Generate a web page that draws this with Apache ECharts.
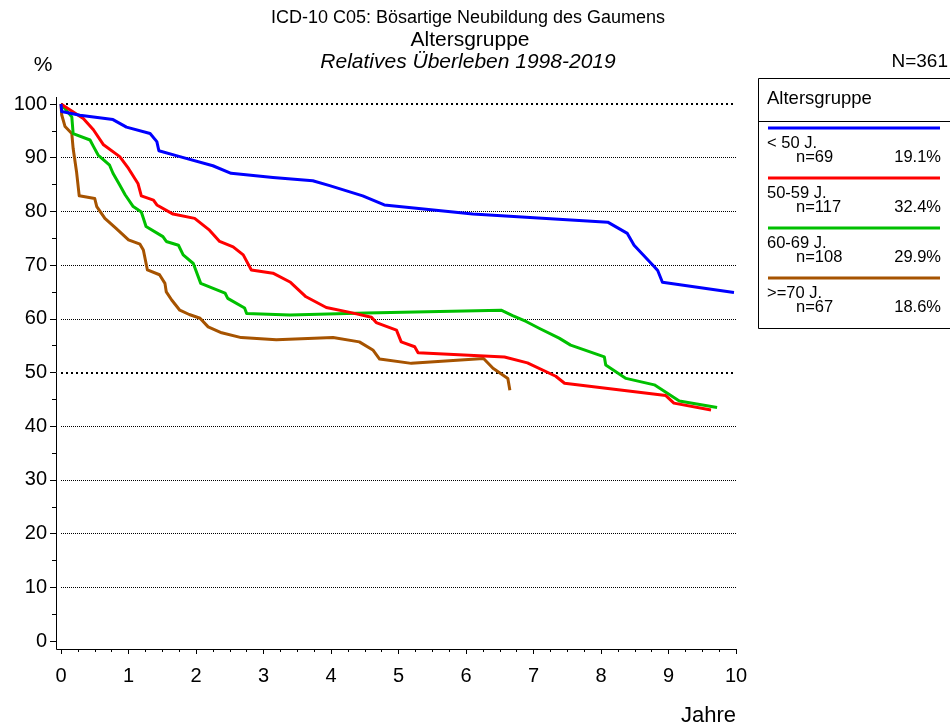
<!DOCTYPE html>
<html>
<head>
<meta charset="utf-8">
<script src="https://cdn.jsdelivr.net/npm/echarts@6/dist/echarts.min.js"></script>
<style>
  html, body { margin: 0; padding: 0; background: #fff; }
  #chart { width: 950px; height: 728px; }
</style>
</head>
<body>
<div id="chart"></div>
<script>
// Relatives Überleben nach Altersgruppe, [Jahre, %]
const groups = ['< 50 J.', '50-59 J.', '60-69 J.', '>=70 J.']
const counts = [69, 117, 108, 67]
const shares = ['19.1%', '32.4%', '29.9%', '18.6%']
const colors = ['#0000ff', '#ff0000', '#00c000', '#a65300']

const survUnder50 = [
  [0, 100], [0.01, 98.6], [0.28, 97.9], [0.77, 97.1], [0.97, 95.7], [1.32, 94.5],
  [1.42, 93], [1.45, 91.3], [1.76, 90.2], [2.25, 88.5], [2.52, 87.1], [3.14, 86.3],
  [3.73, 85.7], [3.98, 84.8], [4.47, 82.9], [4.79, 81.2], [6.1, 79.5], [8.1, 78],
  [8.39, 75.9], [8.49, 73.7], [8.79, 69.7], [8.84, 69], [8.91, 66.8], [9.97, 64.9]
]
const surv50to59 = [
  [0, 100], [0.33, 97.3], [0.48, 95.2], [0.63, 92.4], [0.87, 90.2], [1.0, 88],
  [1.14, 85.2], [1.19, 82.9], [1.37, 82.1], [1.42, 81.2], [1.66, 79.5], [1.98, 78.7],
  [2.2, 76.5], [2.35, 74.4], [2.55, 73.4], [2.7, 71.9], [2.82, 69.1], [3.14, 68.5],
  [3.4, 66.8], [3.63, 64.1], [3.93, 62.1], [4.28, 61.2], [4.6, 60.3], [4.67, 59.3],
  [4.97, 57.9], [5.04, 55.7], [5.24, 54.8], [5.29, 53.7], [6.57, 52.9], [6.91, 51.8],
  [7.33, 49.3], [7.46, 48], [8.96, 45.7], [9.08, 44.3], [9.63, 43]
]
const surv60to69 = [
  [0, 100], [0.16, 97.6], [0.18, 94.5], [0.43, 93.3], [0.48, 92.1], [0.55, 90.5],
  [0.72, 88.6], [0.77, 87.1], [0.87, 84.9], [0.95, 83.1], [1.07, 80.9], [1.19, 79.9],
  [1.26, 77.2], [1.51, 75.3], [1.56, 74.4], [1.74, 73.7], [1.81, 71.9], [1.96, 70.3],
  [2.07, 66.6], [2.43, 64.8], [2.47, 63.8], [2.72, 62], [2.75, 61], [3.39, 60.7],
  [4.52, 61.1], [6.52, 61.6], [6.69, 60.6], [6.89, 59.5], [7.09, 58.2], [7.38, 56.4],
  [7.55, 55.1], [8.05, 52.9], [8.07, 51.4], [8.37, 48.9], [8.79, 47.7], [9.16, 44.7],
  [9.72, 43.5]
]
const survOver70 = [
  [0, 100], [0.01, 98], [0.06, 95.8], [0.16, 94.5], [0.18, 91.7], [0.23, 87.4],
  [0.27, 82.9], [0.5, 82.4], [0.53, 80.9], [0.65, 78.7], [0.82, 76.8], [1.0, 74.7],
  [1.17, 73.9], [1.22, 72.8], [1.28, 69.1], [1.46, 68.2], [1.54, 66.6], [1.56, 65],
  [1.64, 63.5], [1.76, 61.6], [1.9, 60.8], [2.06, 60.1], [2.18, 58.5], [2.38, 57.4],
  [2.67, 56.5], [3.19, 56.1], [4.03, 56.5], [4.42, 55.7], [4.62, 54.2], [4.72, 52.5],
  [5.19, 51.7], [6.26, 52.6], [6.4, 50.8], [6.62, 48.9], [6.65, 46.7]
]
const curves = [survUnder50, surv50to59, surv60to69, survOver70]

const yTicks = [0, 10, 20, 30, 40, 50, 60, 70, 80, 90, 100]
const xTicks = [0, 1, 2, 3, 4, 5, 6, 7, 8, 9, 10]

const font = '"Liberation Sans", Arial, sans-serif'
const chart = echarts.init(document.getElementById('chart'))

// thin dotted grid lines; 0, 50 and 100 left out (50/100 drawn bolder below)
const gridColors = yTicks.map(v => (v === 0 || v === 50 || v === 100) ? 'rgba(0,0,0,0)' : '#000')

const legendItems = []
groups.forEach((g, i) => {
  const y0 = 128 + i * 50
  legendItems.push(
    { type: 'line', shape: { x1: 768, y1: y0, x2: 940, y2: y0 }, style: { stroke: colors[i], lineWidth: 3 } },
    { type: 'text', x: 767, y: y0 + 15, style: { text: g, font: '16.5px ' + font, fill: '#000', textVerticalAlign: 'middle' } },
    { type: 'text', x: 796, y: y0 + 29, style: { text: 'n=' + counts[i], font: '16.5px ' + font, fill: '#000', textVerticalAlign: 'middle' } },
    { type: 'text', x: 941, y: y0 + 29, style: { text: shares[i], font: '16.5px ' + font, fill: '#000', textAlign: 'right', textVerticalAlign: 'middle' } }
  )
})

chart.setOption({
  animation: false,
  backgroundColor: '#fff',
  textStyle: { fontFamily: font, color: '#000' },
  grid: { left: 61, right: 214, top: 104, bottom: 87 },
  xAxis: {
    type: 'value',
    min: xTicks[0],
    max: xTicks[xTicks.length - 1],
    interval: 1,
    offset: 8,
    axisLine: { show: true, onZero: false, lineStyle: { color: '#000', width: 1 } },
    axisTick: { show: true, length: 5, lineStyle: { color: '#000' } },
    minorTick: { show: true, splitNumber: 4, length: 3, lineStyle: { color: '#000' } },
    axisLabel: { fontSize: 20, color: '#000', margin: 17, fontFamily: font },
    splitLine: { show: false }
  },
  yAxis: {
    type: 'value',
    min: yTicks[0],
    max: yTicks[yTicks.length - 1],
    interval: 10,
    offset: 5,
    axisLine: { show: true, onZero: false, lineStyle: { color: '#000', width: 1 } },
    axisTick: { show: true, length: 6, lineStyle: { color: '#000' } },
    minorTick: { show: true, splitNumber: 2, length: 4, lineStyle: { color: '#000' } },
    axisLabel: { fontSize: 20, color: '#000', margin: 9, fontFamily: font },
    splitLine: { show: true, lineStyle: { color: gridColors, width: 1, type: [1, 1] } }
  },
  series: curves.map((data, i) => ({
    name: groups[i],
    type: 'line',
    data,
    showSymbol: false,
    symbol: 'none',
    z: 10 - i,
    lineStyle: { color: colors[i], width: 3, join: 'round' },
    markLine: i === 0 ? {
      silent: true,
      symbol: 'none',
      label: { show: false },
      lineStyle: { color: '#000', width: 2, type: [2, 3] },
      data: [{ yAxis: 100 }, { yAxis: 50 }],
      z: 1
    } : undefined
  })),
  graphic: [
    { type: 'text', x: 468, y: 18, style: { text: 'ICD-10 C05: Bösartige Neubildung des Gaumens', font: '18px ' + font, fill: '#000', textAlign: 'center', textVerticalAlign: 'middle' } },
    { type: 'text', x: 470, y: 40, style: { text: 'Altersgruppe', font: '21px ' + font, fill: '#000', textAlign: 'center', textVerticalAlign: 'middle' } },
    { type: 'text', x: 468, y: 62, style: { text: 'Relatives Überleben 1998-2019', font: 'italic 21px ' + font, fill: '#000', textAlign: 'center', textVerticalAlign: 'middle' } },
    { type: 'text', x: 43, y: 65, style: { text: '%', font: '21px ' + font, fill: '#000', textAlign: 'center', textVerticalAlign: 'middle' } },
    { type: 'text', x: 948, y: 62, style: { text: 'N=361', font: '19px ' + font, fill: '#000', textAlign: 'right', textVerticalAlign: 'middle' } },
    { type: 'text', x: 736, y: 716, style: { text: 'Jahre', font: '22px ' + font, fill: '#000', textAlign: 'right', textVerticalAlign: 'middle' } },
    // axis corner
    { type: 'polyline', shape: { points: [[56.5, 97], [56.5, 104]] }, style: { stroke: '#000', lineWidth: 1 } },
    { type: 'polyline', shape: { points: [[56.5, 641], [56.5, 649.5], [61, 649.5]] }, style: { stroke: '#000', lineWidth: 1 } },
    // legend box
    { type: 'rect', shape: { x: 758.5, y: 78.5, width: 200, height: 250 }, style: { fill: '#fff', stroke: '#000', lineWidth: 1 } },
    { type: 'line', shape: { x1: 758, y1: 121.5, x2: 950, y2: 121.5 }, style: { stroke: '#000', lineWidth: 1 } },
    { type: 'text', x: 767, y: 99, style: { text: 'Altersgruppe', font: '18.5px ' + font, fill: '#000', textVerticalAlign: 'middle' } },
    ...legendItems
  ]
})
</script>
</body>
</html>
